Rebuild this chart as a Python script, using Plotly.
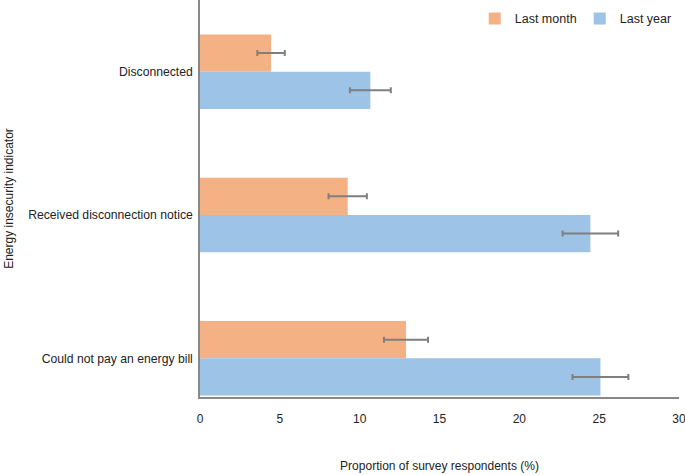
import plotly.graph_objects as go

categories = ["Disconnected", "Received disconnection notice", "Could not pay an energy bill"]
last_month = [4.45, 9.25, 12.9]
last_month_err = [0.86, 1.2, 1.38]
last_year = [10.67, 24.45, 25.08]
last_year_err = [1.28, 1.74, 1.75]
x_ticks = [0, 5, 10, 15, 20, 25, 30]

font_family = "Liberation Sans, Arial, sans-serif"
err_color = "#7f7f7f"

fig = go.Figure()
fig.add_trace(go.Bar(
    y=categories, x=last_month, orientation="h", name="Last month",
    marker=dict(color="#F4B183", line=dict(width=0)),
    error_x=dict(type="data", array=last_month_err, symmetric=True,
                 color=err_color, thickness=2, width=3),
))
fig.add_trace(go.Bar(
    y=categories, x=last_year, orientation="h", name="Last year",
    marker=dict(color="#9DC3E6", line=dict(width=0)),
    error_x=dict(type="data", array=last_year_err, symmetric=True,
                 color=err_color, thickness=2, width=3),
))

fig.update_layout(
    width=685, height=475,
    margin=dict(l=200, r=6, t=0, b=78),
    paper_bgcolor="white", plot_bgcolor="white",
    barmode="group", bargap=0.48, bargroupgap=0,
    font=dict(family=font_family, size=12, color="#222222"),
    legend=dict(orientation="h", x=1.012, y=0.99, xanchor="right", yanchor="top",
                bgcolor="rgba(0,0,0,0)", font=dict(size=12.5),
                itemwidth=30, entrywidth=60, entrywidthmode="pixels",
                traceorder="normal"),
    xaxis=dict(range=[0, 30], tickvals=x_ticks, showgrid=False, zeroline=False,
               showline=True, linecolor="#888888", linewidth=1.5, ticks="",
               ticklen=0, tickfont=dict(size=12), ticklabelstandoff=10,
               ticklabeloverflow="allow", automargin=False,
               title=dict(text="Proportion of survey respondents (%)", standoff=36,
                          font=dict(size=12))),
    yaxis=dict(categoryorder="array", categoryarray=categories,
               range=[2.27, -0.5], showgrid=False, zeroline=False,
               showline=True, linecolor="#888888", linewidth=1.5, ticks="",
               ticklen=0, tickfont=dict(size=12.2), ticklabelstandoff=3,
               automargin=False,
               title=dict(text="Energy insecurity indicator", standoff=12,
                          font=dict(size=12))),
)

fig.write_html("out.html", config={"displayModeBar": False},
               post_script="document.body.style.margin='0px';")
